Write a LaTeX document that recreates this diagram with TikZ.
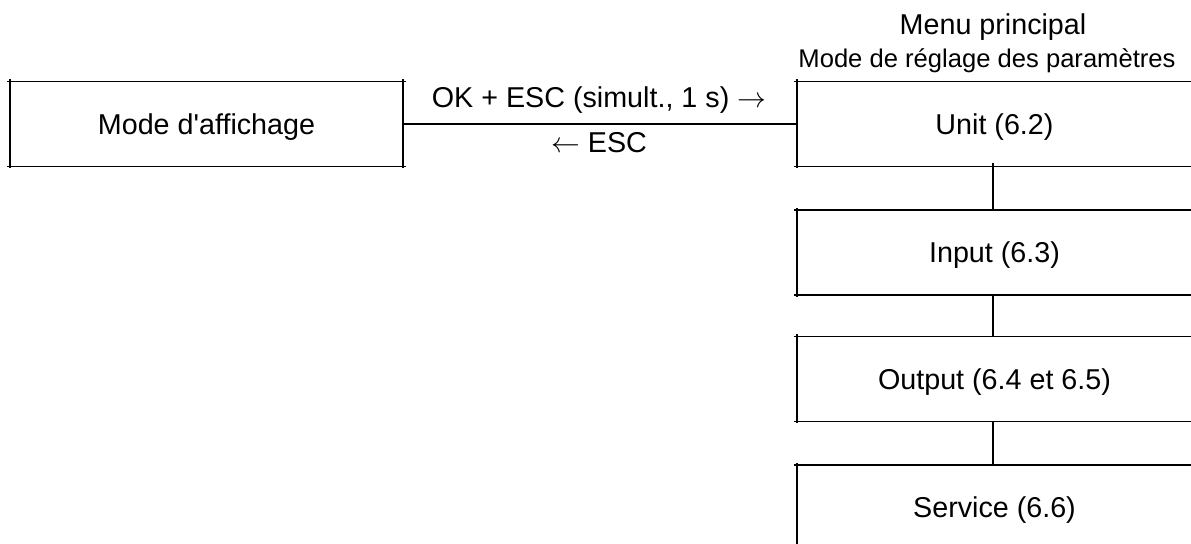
\documentclass[tikz,border=0pt]{standalone}
\usepackage{fontspec}
\setmainfont{Liberation Sans}
\begin{document}
\begin{tikzpicture}[x=0.5pt,y=-0.5pt,
  every node/.style={font=\fontsize{14.35pt}{17pt}\selectfont, inner sep=0pt, outer sep=0pt},
  stage/.style={minimum height=42.5pt, text height=10.3pt, text depth=0pt},
  leftstage/.style={stage, minimum width=196.5pt},
  menustage/.style={stage, minimum width=197.5pt},
  rule/.style={line width=0.75pt, black}]
  \useasboundingbox (0,0) rectangle (1191,544);
  \clip (0,0) rectangle (1191,544);

  % boxes drawn as four lines that run slightly past the corners
  \newcommand\stageframe[1]{%
    \draw[rule] ([xshift=-1.5pt]#1.north west) -- ([xshift=1.5pt]#1.north east);
    \draw[rule] ([xshift=-1.5pt]#1.south west) -- ([xshift=1.5pt]#1.south east);
    \draw[rule] ([yshift=1pt]#1.north west) -- ([yshift=-1pt]#1.south west);
    \draw[rule] ([yshift=1pt]#1.north east) -- ([yshift=-1pt]#1.south east);}

  % display mode
  \node[leftstage] (display) at (206.5,124) {Mode d\textquotesingle affichage};

  % main menu
  \node[anchor=base] (menutitle) at (993,35) {Menu principal};
  \node[anchor=base, font=\fontsize{12.8pt}{15pt}\selectfont] (menusub) at (987,68) {Mode de réglage des paramètres};
  \node[menustage] (unit)    at (994.5,124)   {Unit (6.2)};
  \node[menustage] (input)   at (994.5,252.5) {Input (6.3)};
  \node[menustage] (output)  at (994.5,379)   {Output (6.4 et 6.5)};
  \node[menustage] (service) at (994.5,507.5) {Service (6.6)};

  \stageframe{display}
  \stageframe{unit}
  \stageframe{input}
  \stageframe{output}
  \stageframe{service}

  % transitions between display mode and menu
  \draw[rule] (display.east) -- (unit.west);
  \node[anchor=base] (enter) at (599,108) {OK + ESC (simult., 1 s) $\rightarrow$};
  \node[anchor=base] (leave) at (599,153) {$\leftarrow$ ESC};

  % menu chain
  \draw[rule] ([xshift=-0.75pt,yshift=1.5pt]unit.south)   -- ([xshift=-0.75pt]input.north);
  \draw[rule] ([xshift=-0.75pt]input.south)  -- ([xshift=-0.75pt]output.north);
  \draw[rule] ([xshift=-0.75pt]output.south) -- ([xshift=-0.75pt]service.north);
\end{tikzpicture}
\end{document}
